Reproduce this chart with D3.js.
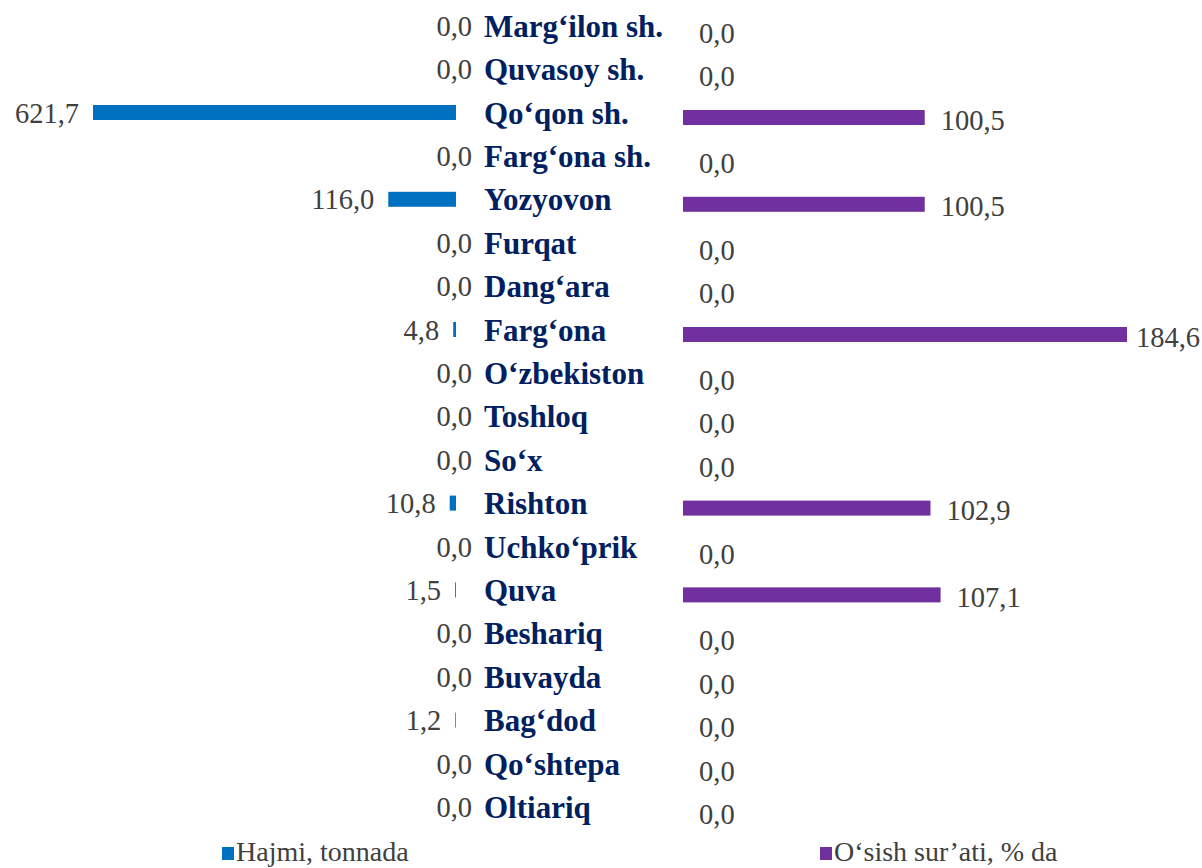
<!DOCTYPE html>
<html><head><meta charset="utf-8">
<script src="https://cdn.jsdelivr.net/npm/d3@7"></script>
<style>body{margin:0;background:#fff}svg{display:block}</style>
</head><body>
<svg id="c" width="1202" height="868"></svg>
<script>
const categories = ["Marg‘ilon sh.","Quvasoy sh.","Qo‘qon sh.","Farg‘ona sh.","Yozyovon","Furqat","Dang‘ara","Farg‘ona","O‘zbekiston","Toshloq","So‘x","Rishton","Uchko‘prik","Quva","Beshariq","Buvayda","Bag‘dod","Qo‘shtepa","Oltiariq"];
const volume = [0,0,621.7,0,116.0,0,0,4.8,0,0,0,10.8,0,1.5,0,0,1.2,0,0];
const growth = [0,0,100.5,0,100.5,0,0,184.6,0,0,0,102.9,0,107.1,0,0,0,0,0];
const seriesNames = ["Hajmi, tonnada","O‘sish sur’ati, % da"];

const W = 1202, H = 868;
const svg = d3.select("#c");
const fmt = v => v.toFixed(1).replace(".", ",");
const serif = "'Liberation Serif', Tinos, 'Times New Roman', serif";

const y = d3.scaleBand().domain(categories).range([5, 5 + 19*43.4]).padding(0);
const xL = d3.scaleLinear().domain([0, 621.7]).range([456, 93]);
const xR = d3.scaleLinear().domain([0, 184.6]).range([683, 1127]);
const bh = 15;
const cy = c => y(c) + y.bandwidth()/2;

// left bars
svg.append("g").selectAll("rect").data(categories).join("rect")
  .attr("x", (c,i) => xL(volume[i]))
  .attr("y", c => cy(c) - 1 - bh/2)
  .attr("width", (c,i) => xL(0) - xL(volume[i]))
  .attr("height", bh)
  .attr("fill", "#0070C0");

// right bars
svg.append("g").selectAll("rect").data(categories).join("rect")
  .attr("x", xR(0))
  .attr("y", c => cy(c) + 4 - bh/2)
  .attr("width", (c,i) => xR(growth[i]) - xR(0))
  .attr("height", bh)
  .attr("fill", "#7030A0");

// category labels
svg.append("g").selectAll("text").data(categories).join("text")
  .attr("x", 484)
  .attr("y", c => cy(c) + 10)
  .style("font-family", serif).attr("font-weight", "bold").attr("font-size", 31)
  .attr("fill", "#002060")
  .text(c => c);

// left value labels
svg.append("g").selectAll("text").data(categories).join("text")
  .attr("x", (c,i) => volume[i] === 0 ? 472 : xL(volume[i]) - 14)
  .attr("y", c => cy(c) + 9)
  .attr("text-anchor", "end")
  .style("font-family", serif).attr("font-size", 28.5)
  .attr("fill", "#404040")
  .text((c,i) => fmt(volume[i]));

// right value labels
svg.append("g").selectAll("text").data(categories).join("text")
  .style("font-family", serif).attr("font-size", 28.5)
  .attr("fill", "#404040")
  .attr("y", c => cy(c) + 7 + 9)
  .text((c,i) => fmt(growth[i]))
  .attr("x", function(c,i){
    const w = this.getComputedTextLength();
    return Math.min(xR(growth[i]) + 16, W - w - 2);
  });

// legend
const lg = svg.append("g");
const legendX = [222, 820];
const legendColors = ["#0070C0", "#7030A0"];
seriesNames.forEach((n, i) => {
  lg.append("rect").attr("x", legendX[i]).attr("y", 847).attr("width", 12).attr("height", 13).attr("fill", legendColors[i]);
  lg.append("text").attr("x", legendX[i] + 14).attr("y", 861)
    .style("font-family", serif).attr("font-size", 28).attr("fill", "#404040").text(n);
});
</script>
</body></html>
